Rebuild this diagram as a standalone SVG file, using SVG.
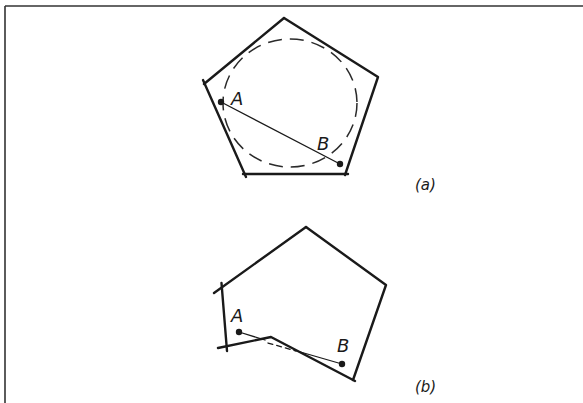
<svg xmlns="http://www.w3.org/2000/svg" width="583" height="403" viewBox="0 0 583 403">
<style>
.edge{fill:none;stroke:#1a1a1a;stroke-width:2.4;stroke-linecap:round;stroke-linejoin:round}
.thin{fill:none;stroke:#1a1a1a;stroke-width:1.3;stroke-linecap:round}
.dash{fill:none;stroke:#2a2a2a;stroke-width:1.5;stroke-dasharray:14 8}
.dot{fill:#1a1a1a}
.lbl{font-family:"DejaVu Sans","Liberation Sans",Arial,sans-serif;font-style:italic;fill:#1a1a1a}
</style>
<rect x="0" y="0" width="583" height="403" fill="#ffffff"/>
<g id="frame">
<line x1="5" y1="6" x2="583" y2="6" stroke="#333" stroke-width="1.6"/>
<line x1="5" y1="6" x2="5" y2="403" stroke="#333" stroke-width="1.6"/>
</g>
<g id="figure-a">
<path class="edge" d="M284,18 L378,77 L345,175"/>
<path class="edge" d="M284,18 L204,84"/>
<path class="edge" d="M203,80 L246,177"/>
<path class="edge" d="M243,174 L348,174"/>
<ellipse class="dash" cx="290" cy="103" rx="67" ry="64"/>
<line class="thin" x1="221" y1="102" x2="340" y2="164"/>
<circle class="dot" cx="221" cy="102" r="3.2"/>
<circle class="dot" cx="340" cy="164" r="3.2"/>
<text class="lbl" x="231" y="105" font-size="18">A</text>
<text class="lbl" x="317" y="150" font-size="18">B</text>
<text class="lbl" x="415" y="190" font-size="15">(a)</text>
</g>
<g id="figure-b">
<path class="edge" d="M306,227 L386,285 L353,380"/>
<path class="edge" d="M306,227 L214,293"/>
<path class="edge" d="M221.5,283 L227,351"/>
<path class="edge" d="M218,348 L271,337 L355,381"/>
<g id="connectors">
<line class="thin" x1="239" y1="332" x2="265" y2="340" stroke-width="2"/>
<line class="thin" x1="268" y1="343" x2="296" y2="351" stroke-dasharray="5 4"/>
<line class="thin" x1="297" y1="351" x2="342" y2="364" stroke-width="2"/>
</g>
<circle class="dot" cx="239" cy="332" r="3.2"/>
<circle class="dot" cx="342" cy="364" r="3.2"/>
<text class="lbl" x="231" y="322" font-size="18">A</text>
<text class="lbl" x="337" y="352" font-size="18">B</text>
<text class="lbl" x="415" y="392" font-size="15">(b)</text>
</g>
</svg>
